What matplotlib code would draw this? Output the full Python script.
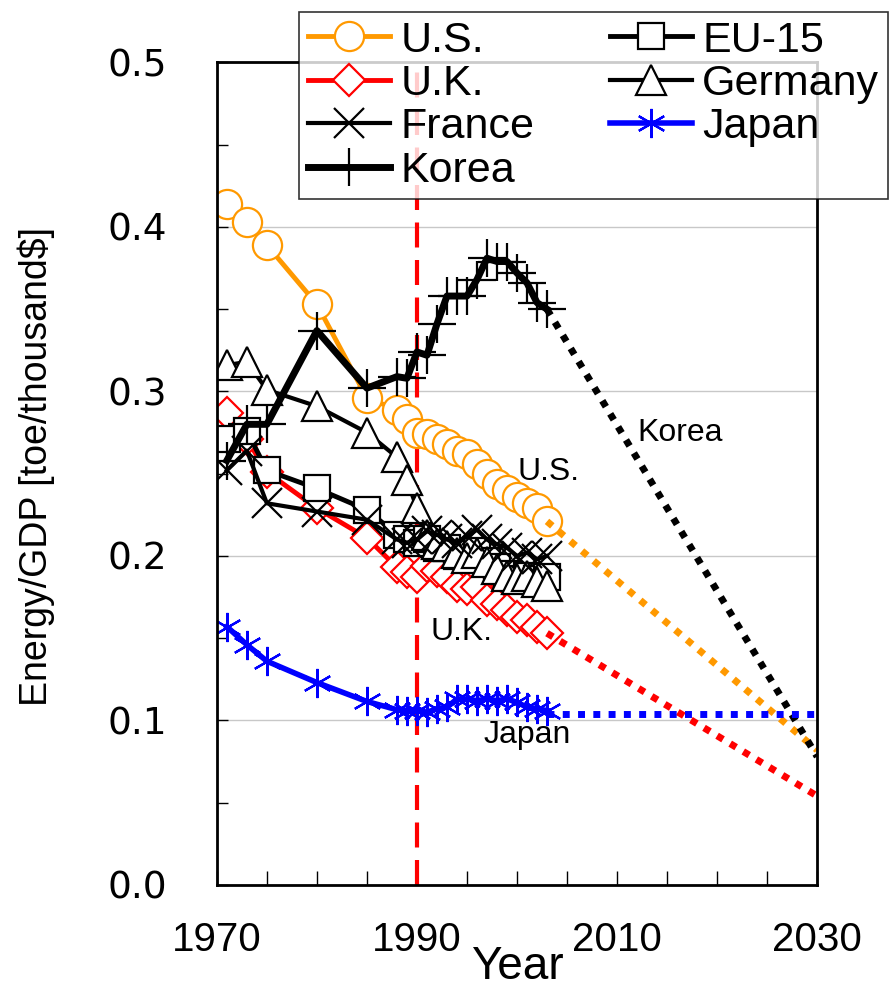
import matplotlib.pyplot as plt
import numpy as np
from matplotlib.ticker import MultipleLocator, FixedLocator

plt.rcParams['font.family'] = ['Liberation Sans', 'DejaVu Sans']

# data (toe per thousand $)
years_early = [1971, 1973, 1975, 1980, 1985]
years_late = list(range(1988, 2004))
years = years_early + years_late

us = [0.414, 0.403, 0.389, 0.353, 0.296,
      0.289, 0.283, 0.275, 0.274, 0.271, 0.268, 0.264, 0.262, 0.256,
      0.250, 0.244, 0.240, 0.236, 0.232, 0.229, 0.221]
uk = [0.287, 0.271, 0.251, 0.229, 0.211,
      0.193, 0.190, 0.187, 0.194, 0.191, 0.187, 0.182, 0.180, 0.181,
      0.173, 0.171, 0.167, 0.163, 0.161, 0.157, 0.153]
france = [0.252, 0.264, 0.232, 0.227, 0.222,
          0.210, 0.208, 0.210, 0.215, 0.213, 0.210, 0.208, 0.212, 0.216,
          0.210, 0.207, 0.205, 0.200, 0.202, 0.198, 0.200]
korea = [0.258, 0.280, 0.280, 0.337, 0.302,
         0.309, 0.308, 0.324, 0.322, 0.341, 0.358, 0.358, 0.358, 0.368,
         0.381, 0.379, 0.379, 0.372, 0.366, 0.354, 0.350]
eu15 = [0.271, 0.276, 0.252, 0.241, 0.228,
        0.213, 0.210, 0.208, 0.210, 0.205, 0.205, 0.200, 0.201, 0.203,
        0.197, 0.193, 0.189, 0.186, 0.188, 0.186, 0.187]
germany = [0.316, 0.318, 0.301, 0.291, 0.275,
           0.260, 0.246, 0.229, 0.213, 0.207, 0.206, 0.202, 0.199, 0.202,
           0.196, 0.192, 0.188, 0.186, 0.188, 0.184, 0.182]
japan = [0.157, 0.146, 0.136, 0.123, 0.1115,
         0.1065, 0.106, 0.106, 0.105, 0.107, 0.108, 0.113, 0.113, 0.112,
         0.113, 0.112, 0.113, 0.111, 0.108, 0.107, 0.106]

# projections to 2030
proj_years = [2003, 2030]
us_proj = [0.221, 0.082]
uk_proj = [0.153, 0.054]
korea_proj = [0.350, 0.078]
japan_proj = [0.104, 0.104]

orange = '#FF9900'
fig = plt.figure(figsize=(8.96, 9.92), dpi=100)
ax = fig.add_axes([0.242, 0.108, 0.670, 0.829])

ax.grid(axis='y', color='#c8c8c8', lw=1)
ax.set_axisbelow(True)

ax.axvline(1990, color='red', lw=3, ls=(0, (6, 3)), zorder=1)

ms = 21
mew = 1.6
h_us, = ax.plot(years, us, color=orange, lw=3.5, marker='o', ms=ms, mfc='white', mec=orange, mew=mew, label='U.S.')
h_uk, = ax.plot(years, uk, color='red', lw=3.5, marker='D', ms=ms * 0.8, mfc='white', mec='red', mew=mew, label='U.K.')
h_eu, = ax.plot(years, eu15, color='black', lw=3.5, marker='s', ms=ms * 0.9, mfc='white', mec='black', mew=mew, label='EU-15')
h_ge, = ax.plot(years, germany, color='black', lw=3, marker='^', ms=ms, mfc='white', mec='black', mew=mew, label='Germany')
h_fr, = ax.plot(years, france, color='black', lw=3, marker='x', ms=ms, mec='black', mew=mew, label='France')
h_ko, = ax.plot(years, korea, color='black', lw=5, marker='+', ms=ms * 1.3, mec='black', mew=mew, label='Korea')
h_jp, = ax.plot(years, japan, color='blue', lw=4, marker=(6, 2, 0), ms=ms, mec='blue', mew=mew, label='Japan')

dot = (0, (1, 1.2))
ax.plot(proj_years, us_proj, color=orange, lw=5, ls=dot)
ax.plot(proj_years, uk_proj, color='red', lw=5, ls=dot)
ax.plot(proj_years, korea_proj, color='black', lw=5, ls=dot)
ax.plot(proj_years, japan_proj, color='blue', lw=5, ls=dot)

ax.text(2016.3, 0.275, 'Korea', fontsize=23, ha='center', va='center')
ax.text(2003.1, 0.251, 'U.S.', fontsize=23, ha='center', va='center')
ax.text(1994.5, 0.154, 'U.K.', fontsize=23, ha='center', va='center')
ax.text(2001, 0.091, 'Japan', fontsize=23, ha='center', va='center')

ax.set_xlim(1970, 2030)
ax.set_ylim(0, 0.5)
ax.xaxis.set_major_locator(FixedLocator([1970, 1990, 2010, 2030]))
ax.xaxis.set_minor_locator(MultipleLocator(5))
ax.yaxis.set_minor_locator(MultipleLocator(0.05))
ax.tick_params(which='both', direction='in', width=1)
ax.tick_params(axis='x', which='both', length=10, labelsize=29, pad=26)
ax.tick_params(axis='y', which='both', length=8, labelsize=27, pad=36)
ax.set_yticks([0, 0.1, 0.2, 0.3, 0.4, 0.5])
ax.set_yticklabels(['0.0', '0.1', '0.2', '0.3', '0.4', '0.5'], family='DejaVu Sans')
for s in ax.spines.values():
    s.set_linewidth(2)

ax.set_xlabel('Year', fontsize=33, labelpad=-10)
fig.text(0.040, 0.53, 'Energy/GDP [toe/thousand$]', rotation=90, fontsize=27,
         ha='center', va='center')

leg = fig.legend(handles=[h_us, h_uk, h_fr, h_ko, h_eu, h_ge, h_jp], ncol=2,
                 loc='upper left', bbox_to_anchor=(0.334, 0.988),
                 prop={'size': 31}, frameon=True, fancybox=False,
                 edgecolor='black', borderpad=0.2, labelspacing=0.08, handlelength=1.9,
                 handletextpad=0.25, columnspacing=1.75, borderaxespad=0)
leg.get_frame().set_linewidth(1.2)
leg.set_zorder(10)

fig.savefig('out.png', dpi=100)
